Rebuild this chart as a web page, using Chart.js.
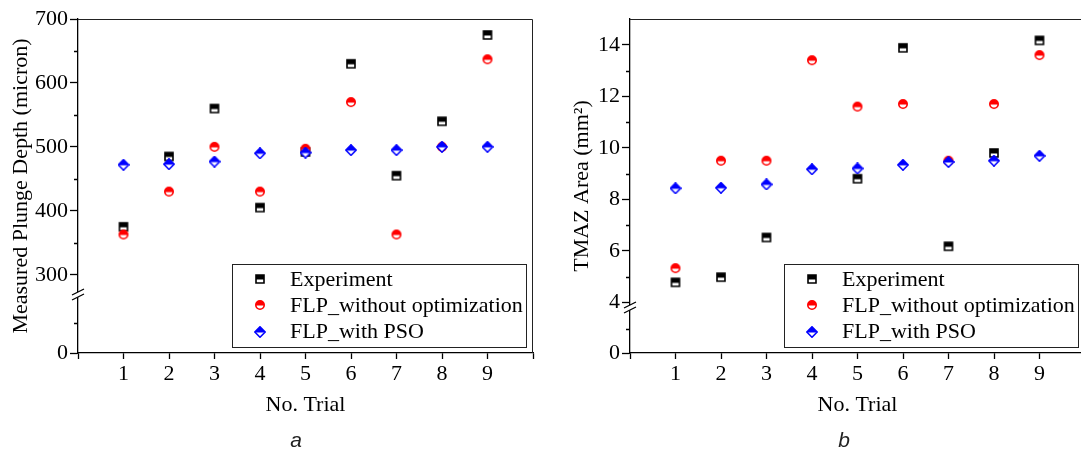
<!DOCTYPE html>
<html>
<head>
<meta charset="utf-8">
<script src="https://cdn.jsdelivr.net/npm/chart.js@4.4.1/dist/chart.umd.min.js"></script>
<style>
  html, body { margin: 0; padding: 0; background: #fff; }
  body { width: 1081px; height: 449px; overflow: hidden; position: relative; }
  canvas { position: absolute; top: 0; }
  #chartA { left: 0; }
  #chartB { left: 552px; }
  .cap { position: absolute; top: 440px; transform: translate(-50%, -50%);
         font: italic 21px "Liberation Sans", Arial, sans-serif; color: #222; }
</style>
</head>
<body>
<canvas id="chartA" width="540" height="449"></canvas>
<canvas id="chartB" width="540" height="449"></canvas>
<div class="cap" style="left:296px">a</div>
<div class="cap" style="left:844px">b</div>
<script>
// trial numbers on the x axis
const trials = [1, 2, 3, 4, 5, 6, 7, 8, 9];
const seriesNames = ['Experiment', 'FLP_without optimization', 'FLP_with PSO'];

// (a) measured plunge depth, micron
const depthExperiment = [375, 485, 560, 405, 492, 630, 455, 540, 675];
const depthFlp = [363, 430, 500, 430, 497, 570, 363, 500, 637];
const depthPso = [472, 473, 477, 490, 491, 495, 495, 500, 500];

// (b) TMAZ area, mm2 (no experiment marker is visible at trial 4)
const areaExperiment = [4.78, 4.98, 6.52, null, 8.8, 13.88, 6.18, 9.8, 14.17];
const areaFlp = [5.33, 9.5, 9.5, 13.4, 11.6, 11.7, 9.5, 11.7, 13.6];
const areaPso = [8.43, 8.45, 8.58, 9.17, 9.2, 9.34, 9.45, 9.5, 9.69];

const serif = "'Liberation Serif', 'Times New Roman', serif";
Chart.defaults.font.family = serif;
Chart.defaults.font.size = 22;
Chart.defaults.color = '#000';

// half filled markers like the origin plot
function makeMarker(kind, color) {
  const c = document.createElement('canvas');
  c.width = 12; c.height = 12;
  const g = c.getContext('2d');
  const m = 6;
  g.beginPath();
  if (kind === 'square') {
    g.rect(2, 2, 8, 8);
  } else if (kind === 'circle') {
    g.arc(m, m, 4.2, 0, Math.PI * 2);
  } else {
    g.moveTo(m, 0.8); g.lineTo(11.2, m); g.lineTo(m, 11.2); g.lineTo(0.8, m); g.closePath();
  }
  g.fillStyle = '#fff';
  g.fill();
  g.save();
  g.clip();
  g.fillStyle = color;
  g.fillRect(0, 0, 12, m + 0.5);
  g.restore();
  g.strokeStyle = color;
  g.lineWidth = 1.6;
  g.stroke();
  return c;
}
const markers = [makeMarker('square', '#000'), makeMarker('circle', '#ff0000'), makeMarker('diamond', '#0000ff')];

// frame, minor ticks, axis break and the boxed legend
const framePlugin = {
  id: 'frame',
  afterDraw(chart, args, opts) {
    const { ctx, chartArea: a, scales } = chart;
    ctx.save();
    ctx.strokeStyle = '#222';
    ctx.lineWidth = 1;
    ctx.beginPath();
    ctx.moveTo(a.left, a.top + 0.5);
    ctx.lineTo(a.right - 0.5, a.top + 0.5);
    ctx.lineTo(a.right - 0.5, a.bottom);
    ctx.stroke();

    // minor ticks on y
    ctx.strokeStyle = '#000';
    ctx.lineWidth = 1.3;
    const up = scales.y, low = scales.yLow;
    const t = up.ticks.map(k => k.value);
    const minors = [];
    for (let i = 0; i < t.length - 1; i++) minors.push([up, (t[i] + t[i + 1]) / 2]);
    minors.push([low, (low.min + low.max) / 2]);
    ctx.beginPath();
    for (const [s, v] of minors) {
      const py = Math.round(s.getPixelForValue(v)) + 0.5;
      ctx.moveTo(a.left, py);
      ctx.lineTo(a.left - 4, py);
    }
    ctx.stroke();

    // axis break
    const bx = a.left, by = up.bottom;
    ctx.fillStyle = '#fff';
    ctx.beginPath();
    ctx.moveTo(bx - 6, by + 3); ctx.lineTo(bx + 6, by - 3);
    ctx.lineTo(bx + 6, by + 2); ctx.lineTo(bx - 6, by + 8);
    ctx.closePath();
    ctx.fill();
    ctx.beginPath();
    ctx.moveTo(bx - 6, by + 3); ctx.lineTo(bx + 6, by - 3);
    ctx.moveTo(bx - 6, by + 8); ctx.lineTo(bx + 6, by + 2);
    ctx.stroke();

    // legend box, placed from the lower right corner of the plot
    const L = opts.legend;
    const lx = a.right - L.fromRight, ly = a.bottom - L.fromBottom;
    ctx.fillStyle = '#fff';
    ctx.fillRect(lx, ly, L.width, L.height);
    ctx.strokeStyle = '#222';
    ctx.lineWidth = 1;
    ctx.strokeRect(lx + 0.5, ly + 0.5, L.width, L.height);
    ctx.font = '22px ' + serif;
    ctx.fillStyle = '#000';
    ctx.textBaseline = 'middle';
    chart.data.datasets.forEach((ds, i) => {
      const ry = ly + L.row0 + i * L.rowGap;
      const img = ds.pointStyle;
      ctx.drawImage(img, Math.round(lx + 28 - img.width / 2), Math.round(ry - img.height / 2));
      ctx.fillText(ds.label, lx + 58, ry + 1);
    });
    ctx.restore();
  }
};

function makeChart(id, cfg) {
  const pts = vals => trials.map((x, i) => ({ x: x, y: vals[i] }));
  const axisGrid = { display: true, drawOnChartArea: false, drawTicks: true, tickLength: 8, tickColor: '#000', tickWidth: 1.3 };
  const axisBorder = { display: true, color: '#000', width: 1.3 };
  const major = cfg.step;
  return new Chart(document.getElementById(id), {
    type: 'scatter',
    data: {
      datasets: cfg.series.map((vals, i) => ({
        label: seriesNames[i],
        data: pts(vals),
        xAxisID: 'x',
        yAxisID: 'y',
        pointStyle: markers[i],
        order: 2 - i,
        showLine: false
      }))
    },
    options: {
      responsive: false,
      animation: false,
      layout: { padding: { top: 19, right: 7, left: 0, bottom: 0 } },
      plugins: {
        legend: { display: false },
        tooltip: { enabled: false },
        frame: { legend: { fromRight: 301, fromBottom: 89, width: 294, height: 83, row0: 15, rowGap: 26.3 } }
      },
      scales: {
        x: {
          type: 'linear', min: 0, max: 10,
          ticks: { stepSize: 1, padding: 2, callback: v => (v >= 1 && v <= 9 ? v : '') },
          grid: Object.assign({}, axisGrid, { tickLength: 6 }),
          border: axisBorder,
          title: { display: true, text: 'No. Trial', padding: { top: 0, bottom: 31 } },
          afterFit: s => { s.height = 96; }
        },
        y: {
          type: 'linear', position: 'left', weight: 5, stack: 'v', stackWeight: cfg.upWeight,
          min: cfg.upMin, max: cfg.upMax,
          ticks: { stepSize: major, padding: 2, includeBounds: false },
          afterBuildTicks: s => {
            s.ticks = s.ticks.filter(k => Math.abs(k.value / major - Math.round(k.value / major)) < 1e-6);
          },
          grid: axisGrid,
          border: axisBorder,
          afterFit: s => { s.width = 78 - cfg.titleWidth; }
        },
        yLow: {
          type: 'linear', position: 'left', weight: 1, stack: 'v', stackWeight: cfg.lowWeight,
          min: 0, max: cfg.lowMax,
          ticks: { padding: 2 },
          afterBuildTicks: s => { s.ticks = [{ value: 0 }]; },
          grid: axisGrid,
          border: axisBorder,
          afterFit: s => { s.width = 78 - cfg.titleWidth; }
        },
        yTitle: {
          type: 'linear', position: 'left', weight: 10, min: 0, max: 1,
          ticks: { display: false },
          grid: { display: false, drawTicks: false },
          border: { display: false },
          title: { display: true, text: cfg.title, padding: { top: cfg.titlePad, bottom: 0 } },
          afterFit: s => { s.width = cfg.titleWidth; }
        }
      }
    },
    plugins: [framePlugin]
  });
}

makeChart('chartA', {
  series: [depthExperiment, depthFlp, depthPso],
  title: 'Measured Plunge Depth (micron)',
  titlePad: 8, titleWidth: 34,
  upMin: 273, upMax: 700, step: 100, upWeight: 273, lowMax: 100, lowWeight: 61
});

makeChart('chartB', {
  series: [areaExperiment, areaFlp, areaPso],
  title: 'TMAZ Area (mm²)',
  titlePad: 17, titleWidth: 44,
  upMin: 3.9, upMax: 15, step: 2, upWeight: 286, lowMax: 4, lowWeight: 48
});
</script>
</body>
</html>
